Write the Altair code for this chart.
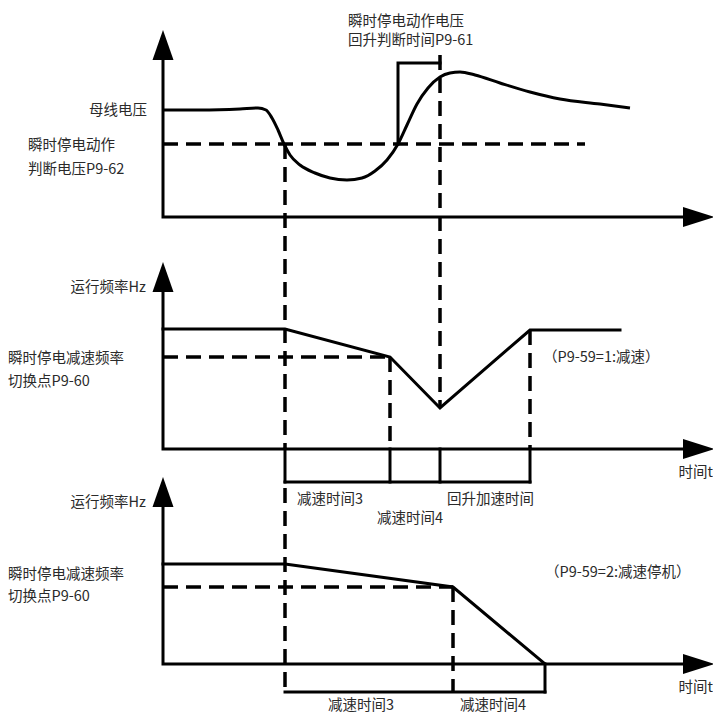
import altair as alt
import pandas as pd

# ---- bus-voltage curve (top panel) ----
bus_x = [163, 200, 240, 258, 266, 272, 278, 284, 290, 300, 315, 330, 347, 362, 375, 387, 398, 407, 417, 428, 440, 450, 460, 475, 500, 530, 560, 600, 630]
bus_y = [110, 110, 109, 108, 110, 118, 130, 144, 155, 165, 173, 178, 180, 178, 171, 160, 144, 125, 104, 88, 77, 73, 72, 75, 83, 92, 99, 104, 108]

# ---- solid polylines: name -> (xs, ys) ----
solid_lines = {
    "axis_top": ([163, 163, 690], [50, 217, 217]),
    "axis_mid": ([163, 163, 690], [285, 449, 449]),
    "axis_bot": ([163, 163, 690], [500, 664, 664]),
    "hold_bracket": ([398, 398, 440], [144, 63, 63]),
    "freq_mid": ([163, 285, 390, 440, 530, 620], [329, 329, 357, 408, 330, 330]),
    "tick_285": ([285, 285], [449, 482]),
    "tick_390": ([390, 390], [449, 482]),
    "tick_440": ([440, 440], [449, 482]),
    "tick_530": ([530, 530], [449, 482]),
    "bracket_mid": ([285, 530], [482, 482]),
    "freq_bot": ([163, 285, 453, 545], [564, 564, 587, 664]),
    "tick_545": ([545, 545], [664, 692]),
    "bracket_bot": ([285, 545], [692, 692]),
}

# ---- dashed polylines ----
dashed_lines = {
    "thr_top": ([163, 585], [144, 144]),
    "v285a": ([285, 285], [144, 449]),
    "v285b": ([285, 285], [488, 692]),
    "v440": ([440, 440], [55, 408]),
    "thr_mid": ([163, 390], [357, 357]),
    "v390": ([390, 390], [357, 449]),
    "v530": ([530, 530], [330, 449]),
    "thr_bot": ([163, 453], [587, 587]),
    "v453": ([453, 453], [587, 692]),
}

# ---- arrow heads ----
up_arrow_x = [163, 163, 163]
up_arrow_y = [45, 277, 492]
right_arrow_x = [699, 699, 699]
right_arrow_y = [217, 449, 664]

# ---- labels ----
left_text = ["瞬时停电动作电压", "回升判断时间P9-61", "瞬时停电动作", "判断电压P9-62",
             "瞬时停电减速频率", "切换点P9-60", "瞬时停电减速频率", "切换点P9-60",
             "（P9-59=1:减速）", "（P9-59=2:减速停机）",
             "减速时间3", "回升加速时间", "减速时间4", "减速时间3", "减速时间4"]
left_x = [348, 348, 28, 28, 8, 8, 8, 8, 543, 545, 297, 447, 377, 328, 460]
left_y = [22, 41, 146, 170, 359, 382, 575, 597, 358, 573, 500, 500, 519, 706, 706]

right_text = ["母线电压", "运行频率Hz", "运行频率Hz", "时间t", "时间t"]
right_x = [147, 146, 146, 713, 713]
right_y = [111, 288, 503, 473, 688]


def to_rows(lines):
    rows = []
    for name, (xs, ys) in lines.items():
        for i, (x, y) in enumerate(zip(xs, ys)):
            rows.append({"seg": name, "i": i, "x": x, "y": y})
    return pd.DataFrame(rows)


xs = alt.Scale(domain=[8, 713], range=[0, 705], nice=False, zero=False)
ys = alt.Scale(domain=[8, 715], range=[0, 707], nice=False, zero=False)
X = alt.X("x:Q", scale=xs, axis=None)
Y = alt.Y("y:Q", scale=ys, axis=None)

bus_df = pd.DataFrame({"x": bus_x, "y": bus_y})
bus = alt.Chart(bus_df).mark_line(color="black", strokeWidth=3, interpolate="monotone").encode(x=X, y=Y)

solid = alt.Chart(to_rows(solid_lines)).mark_line(
    color="black", strokeWidth=3, strokeJoin="miter", strokeCap="square"
).encode(x=X, y=Y, detail="seg:N", order="i:Q")

dashed = alt.Chart(to_rows(dashed_lines)).mark_line(
    color="black", strokeWidth=3.5, strokeDash=[15, 8]
).encode(x=X, y=Y, detail="seg:N", order="i:Q")

up = alt.Chart(pd.DataFrame({"x": up_arrow_x, "y": up_arrow_y})).mark_point(
    shape="M0,-1L0.7,1L-0.7,1Z", filled=True, color="black", opacity=1, size=900
).encode(x=X, y=Y)

right = alt.Chart(pd.DataFrame({"x": right_arrow_x, "y": right_arrow_y})).mark_point(
    shape="M1,0L-1,-0.62L-1,0.62Z", filled=True, color="black", opacity=1, size=1024
).encode(x=X, y=Y)

tl = alt.Chart(pd.DataFrame({"x": left_x, "y": left_y, "t": left_text})).mark_text(
    align="left", baseline="middle", font="Noto Sans CJK SC", fontSize=14.5, color="#2a2a2a"
).encode(x=X, y=Y, text="t:N")

tr = alt.Chart(pd.DataFrame({"x": right_x, "y": right_y, "t": right_text})).mark_text(
    align="right", baseline="middle", font="Noto Sans CJK SC", fontSize=14.5, color="#2a2a2a"
).encode(x=X, y=Y, text="t:N")

chart = alt.layer(dashed, bus, solid, up, right, tl, tr).properties(
    width=705, height=707, autosize=alt.AutoSizeParams(type="none"), padding=0
).configure_view(stroke=None)

chart.save("out.html", embed_options={"renderer": "svg", "actions": False})
